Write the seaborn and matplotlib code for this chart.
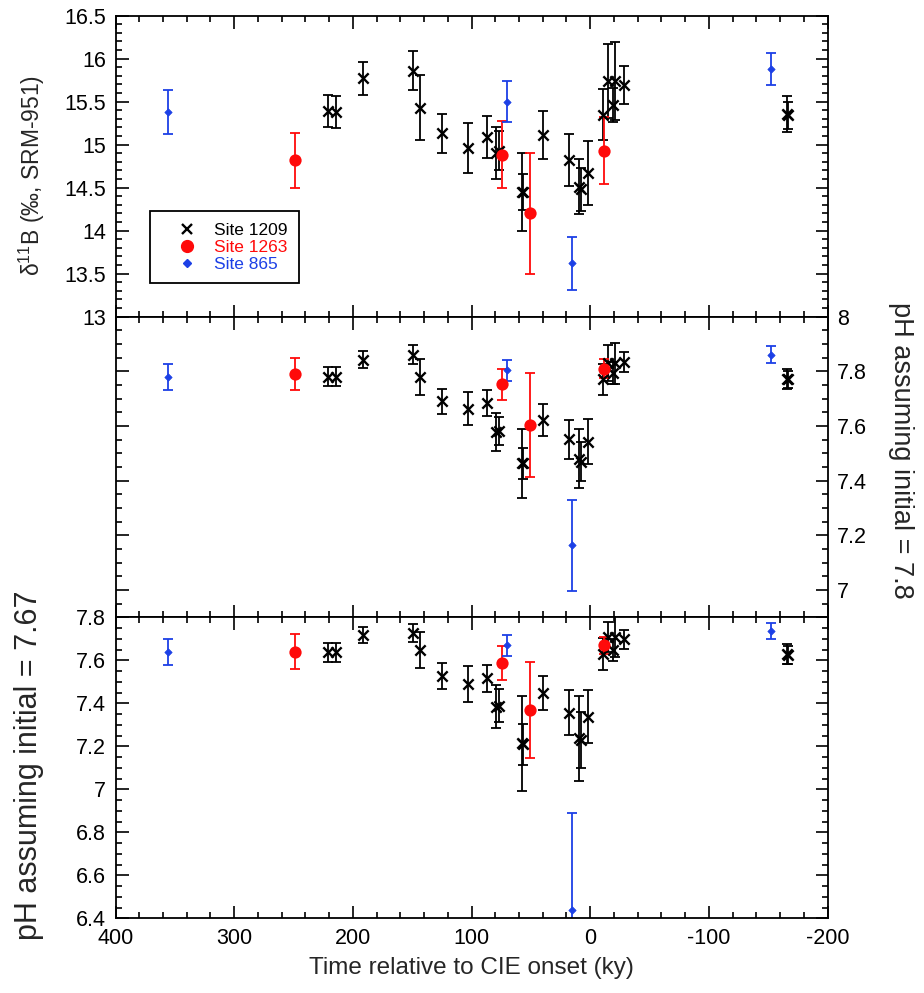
import numpy as np
import pandas as pd
import matplotlib
matplotlib.use("Agg")
import matplotlib.pyplot as plt
import seaborn as sns
from matplotlib.ticker import MultipleLocator, FuncFormatter
from matplotlib.lines import Line2D

# ---------------- data ----------------
site1209_time = [220.7, 214.2, 191.2, 149.0, 143.4, 124.6, 102.7, 86.7, 79.6, 76.6,
                 57.7, 57.0, 40.0, 17.6, 9.2, 7.5, 1.6, -11.0, -15.3, -19.5,
                 -20.9, -28.5, -166.1, -167.0]
d11B_1209 = [15.39, 15.38, 15.77, 15.86, 15.43, 15.13, 14.96, 15.09, 14.90, 14.93,
             14.45, 14.45, 15.11, 14.82, 14.51, 14.48, 14.67, 15.35, 15.74, 15.46,
             15.74, 15.69, 15.36, 15.34]
d11B_1209_err = [0.19, 0.19, 0.19, 0.23, 0.38, 0.23, 0.29, 0.24, 0.30, 0.23,
                 0.45, 0.21, 0.28, 0.30, 0.32, 0.25, 0.37, 0.30, 0.43, 0.20,
                 0.45, 0.22, 0.21, 0.16]
ph78_1209 = [7.780, 7.780, 7.843, 7.861, 7.780, 7.691, 7.663, 7.683, 7.578, 7.582,
             7.463, 7.463, 7.622, 7.552, 7.481, 7.470, 7.543, 7.770, 7.830, 7.794,
             7.830, 7.833, 7.773, 7.770]
ph78_1209_err = [0.035, 0.035, 0.032, 0.036, 0.065, 0.046, 0.060, 0.048, 0.070, 0.050,
                 0.126, 0.057, 0.058, 0.071, 0.109, 0.070, 0.083, 0.055, 0.065, 0.040,
                 0.075, 0.036, 0.036, 0.030]
ph767_1209 = [7.637, 7.637, 7.718, 7.728, 7.648, 7.527, 7.490, 7.516, 7.384, 7.390,
              7.214, 7.210, 7.449, 7.356, 7.237, 7.230, 7.338, 7.629, 7.710, 7.648,
              7.710, 7.698, 7.629, 7.625]
ph767_1209_err = [0.043, 0.043, 0.039, 0.043, 0.082, 0.062, 0.085, 0.065, 0.100, 0.075,
                  0.220, 0.095, 0.080, 0.105, 0.197, 0.130, 0.123, 0.075, 0.070, 0.050,
                  0.095, 0.045, 0.047, 0.040]

site1263_time = [248.7, 74.0, 50.7, -11.6]
d11B_1263 = [14.82, 14.88, 14.20, 14.93]
d11B_1263_err = [0.32, 0.39, 0.70, 0.39]
ph78_1263 = [7.790, 7.752, 7.603, 7.810]
ph78_1263_err = [0.060, 0.058, 0.190, 0.035]
ph767_1263 = [7.640, 7.589, 7.369, 7.671]
ph767_1263_err = [0.082, 0.078, 0.225, 0.040]

site865_time = [355.5, 70.4, 15.6, -152.1]
d11B_865 = [15.38, 15.50, 13.62, 15.88]
d11B_865_err = [0.26, 0.235, 0.31, 0.19]
ph78_865 = [7.780, 7.803, 7.164, 7.861]
ph78_865_err = [0.047, 0.040, 0.167, 0.030]
ph767_865 = [7.640, 7.671, 6.439, 7.738]
ph767_865_err = [0.060, 0.049, 0.450, 0.038]

site_labels = ["Site 1209", "Site 1263", "Site 865"]
xtick_values = [400, 300, 200, 100, 0, -100, -200]

# ---------------- style ----------------
sns.set_style("ticks")
plt.rcParams["font.family"] = ["Liberation Sans", "DejaVu Sans"]
plt.rcParams["mathtext.fontset"] = "custom"
plt.rcParams["mathtext.rm"] = "Liberation Sans"
plt.rcParams["mathtext.it"] = "Liberation Sans:italic"
plt.rcParams["axes.unicode_minus"] = False

BLACK = "#000000"
RED = "#ff0a0a"
BLUE = "#1c40e6"

styles = {
    "Site 1209": dict(color=BLACK, marker="x", s=55, lw=1.7),
    "Site 1263": dict(color=RED, marker="o", s=78, lw=0),
    "Site 865": dict(color=BLUE, marker="D", s=14, lw=0.5),
}

panels = [
    dict(key="d11B", ylim=(13, 16.5), major=0.5, minor=0.1),
    dict(key="ph78", ylim=(6.9, 8.0), major=0.2, minor=0.05),
    dict(key="ph767", ylim=(6.4, 7.8), major=0.2, minor=0.05),
]

data = {
    "Site 1209": dict(t=site1209_time, d11B=(d11B_1209, d11B_1209_err),
                      ph78=(ph78_1209, ph78_1209_err), ph767=(ph767_1209, ph767_1209_err)),
    "Site 1263": dict(t=site1263_time, d11B=(d11B_1263, d11B_1263_err),
                      ph78=(ph78_1263, ph78_1263_err), ph767=(ph767_1263, ph767_1263_err)),
    "Site 865": dict(t=site865_time, d11B=(d11B_865, d11B_865_err),
                     ph78=(ph78_865, ph78_865_err), ph767=(ph767_865, ph767_865_err)),
}

fig = plt.figure(figsize=(9.24, 9.93), dpi=100)
left, width, h = 0.125, 0.7706, 0.3030
bottoms = [0.6812, 0.3782, 0.0752]
axes = [fig.add_axes([left, b, width, h]) for b in bottoms]

fmt = FuncFormatter(lambda v, p: f"{v:g}")

for ax, pan in zip(axes, panels):
    for site in site_labels:
        d = data[site]
        st = styles[site]
        vals, errs = d[pan["key"]]
        ax.errorbar(d["t"], vals, yerr=errs, fmt="none", ecolor=st["color"],
                    elinewidth=1.3, capsize=3.4, capthick=1.3, zorder=2)
        df = pd.DataFrame({"t": d["t"], "v": vals})
        if st["marker"] == "x":
            sns.scatterplot(data=df, x="t", y="v", ax=ax, marker="x", color=st["color"],
                            s=st["s"], linewidth=st["lw"], zorder=3, legend=False)
        else:
            sns.scatterplot(data=df, x="t", y="v", ax=ax, marker=st["marker"],
                            color=st["color"], edgecolor=st["color"], s=st["s"],
                            linewidth=st["lw"], zorder=3, legend=False)
    ax.set_xlim(400, -200)
    ax.set_ylim(*pan["ylim"])
    ax.xaxis.set_major_locator(MultipleLocator(100))
    ax.xaxis.set_minor_locator(MultipleLocator(20))
    ax.yaxis.set_major_locator(MultipleLocator(pan["major"]))
    ax.yaxis.set_minor_locator(MultipleLocator(pan["minor"]))
    ax.yaxis.set_major_formatter(fmt)
    ax.tick_params(which="both", direction="in", top=True, right=True,
                   bottom=True, left=True, width=1.2, colors="black",
                   labelsize=15.5, pad=7)
    ax.tick_params(which="major", length=9)
    ax.tick_params(which="minor", length=4.5)
    ax.set_xlabel("")
    ax.set_ylabel("")
    for sp in ax.spines.values():
        sp.set_linewidth(1.3)
        sp.set_color("black")
        sp.set_visible(True)
    if ax is not axes[2]:
        ax.tick_params(labelbottom=False)

axes[2].set_xticks(xtick_values)
axes[2].xaxis.set_major_formatter(fmt)

# middle panel: labels on the right
axes[1].tick_params(labelleft=False, labelright=True)

# axis labels
axes[0].text(-0.118, 0.468, "δ$^{\\mathregular{11}}$B (‰, SRM-951)", transform=axes[0].transAxes,
             rotation=90, ha="center", va="center", fontsize=16.5)
axes[1].text(1.103, 0.555, "pH assuming initial = 7.8", transform=axes[1].transAxes,
             rotation=270, ha="center", va="center", fontsize=19.5)
axes[2].text(-0.122, 0.51, "pH assuming initial = 7.67", transform=axes[2].transAxes,
             rotation=90, ha="center", va="center", fontsize=22)
axes[2].set_xlabel("Time relative to CIE onset (ky)", fontsize=17.5, labelpad=6)

# legend
handles = [
    Line2D([], [], ls="none", marker="x", color=BLACK, ms=7, mew=1.7),
    Line2D([], [], ls="none", marker="o", color=RED, ms=8.5),
    Line2D([], [], ls="none", marker="D", color=BLUE, ms=4),
]
leg = axes[0].legend(handles, site_labels, loc="upper left", bbox_to_anchor=(0.049, 0.35),
                     borderaxespad=0, fontsize=12.5, frameon=True, fancybox=False,
                     framealpha=1, edgecolor="black", borderpad=0.65, handlelength=2.9,
                     handletextpad=0.1, labelspacing=0.12,
                     labelcolor=[BLACK, RED, BLUE])
leg.get_frame().set_linewidth(1.3)

fig.savefig("out.png", dpi=100)
